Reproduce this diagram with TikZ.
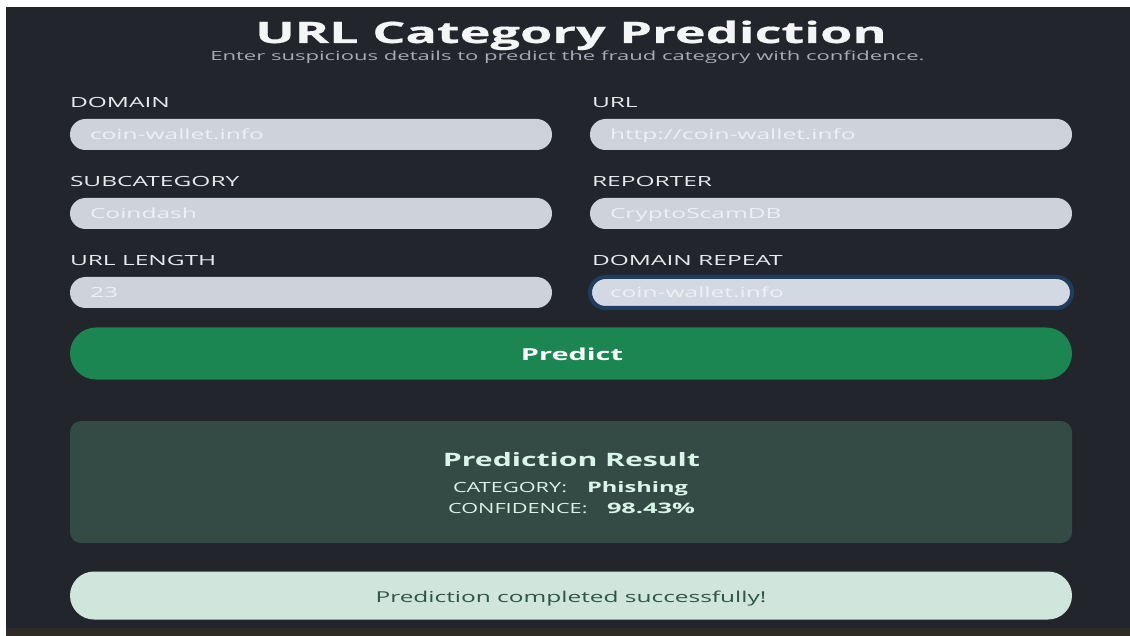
\documentclass[tikz,border=0pt]{standalone}
\usepackage{fontspec}
\setmainfont{Open Sans}[FakeStretch=1.75]
\newfontfamily\capsfont{Open Sans}[FakeStretch=1.55]
\newfontfamily\msgfont{Open Sans}[FakeStretch=1.63]
\newfontfamily\headfont{Open Sans}[FakeStretch=1.77, FakeBold=0.6]
\definecolor{panelc}{HTML}{22252C}
\definecolor{stripc}{HTML}{2E2B29}
\definecolor{fieldc}{HTML}{CED3DA}
\definecolor{focusc}{HTML}{D3D9E3}
\definecolor{ringc}{HTML}{203C5E}
\definecolor{fieldtxt}{HTML}{EEF0F3}
\definecolor{labelc}{HTML}{E8E9EB}
\definecolor{titlec}{HTML}{F4F5F6}
\definecolor{subc}{HTML}{A7ABB1}
\definecolor{greenc}{HTML}{1B8652}
\definecolor{resboxc}{HTML}{344A45}
\definecolor{restxt}{HTML}{D9F4E8}
\definecolor{succbg}{HTML}{D0E6DC}
\definecolor{succtxt}{HTML}{2E5545}
\begin{document}
\begin{tikzpicture}[x=1pt,y=-1pt,
  every node/.style={inner sep=0pt, outer sep=0pt},
  lbl/.style={anchor=base west, text=labelc, font=\fontsize{14}{16}\selectfont},
  val/.style={anchor=base west, text=fieldtxt, font=\fontsize{14}{16}\selectfont},
  field/.style={fill=fieldc, minimum width=482pt, minimum height=31pt, rounded corners=15.5pt},
  focused/.style={fill=focusc, draw=ringc, line width=4pt},
  restext/.style={anchor=base west, text=restxt, font=\capsfont\fontsize{14}{16}\selectfont},
  resbold/.style={anchor=base west, text=restxt, font=\fontsize{14.5}{16}\selectfont\bfseries}]
\useasboundingbox (0,0) rectangle (1130,636);
\fill[white] (0,0) rectangle (1130,636);
\fill[panelc] (6,7) rectangle (1130,628);
\fill[stripc] (6,628) rectangle (1130,636);

% heading
\node[anchor=base, text=titlec, font=\headfont\fontsize{29.5}{32}\selectfont\bfseries] (title) at (571,43) {URL Category Prediction};
\node[anchor=base, text=subc, font=\fontsize{12.6}{15}\selectfont] (subtitle) at (567.5,61) {Enter suspicious details to predict the fraud category with confidence.};

% form row 1
\node[lbl] (ldomain) at (70,108) {DOMAIN};
\node[lbl] (lurl) at (592,108) {URL};
\node[field] (fdomain) at (311,134.5) {};
\node[field] (furl) at (831,134.5) {};
\node[val] (vdomain) at (90,140) {coin-wallet.info};
\node[val] (vurl) at (610,140) {http://coin-wallet.info};

% form row 2
\node[lbl] (lsub) at (70,187) {SUBCATEGORY};
\node[lbl] (lrep) at (592,187) {REPORTER};
\node[field] (fsub) at (311,213.5) {};
\node[field] (frep) at (831,213.5) {};
\node[val] (vsub) at (90,219) {Coindash};
\node[val] (vrep) at (610,219) {CryptoScamDB};

% form row 3
\node[lbl] (llen) at (70,266) {URL LENGTH};
\node[lbl] (ldrep) at (592,266) {DOMAIN REPEAT};
\node[field] (flen) at (311,292.5) {};
\node[field, focused] (fdrep) at (831,292.5) {};
\node[val] (vlen) at (90,298) {23};
\node[val] (vdrep) at (610,298) {coin-wallet.info};

% submit button
\node[fill=greenc, minimum width=1002pt, minimum height=52pt, rounded corners=26pt] (predict) at (571,353.5) {};
\node[anchor=base, text=white, font=\fontsize{16.5}{18}\selectfont\bfseries] (predicttxt) at (572,360) {Predict};

% result card
\node[fill=resboxc, minimum width=1002pt, minimum height=122pt, rounded corners=11pt] (result) at (571,482) {};
\node[anchor=base, text=restxt, font=\msgfont\fontsize{18.5}{20}\selectfont\bfseries] (rtitle) at (571.5,466) {Prediction Result};
\node[restext] (rcat) at (453,492) {CATEGORY:};
\node[resbold, font=\msgfont\fontsize{14.5}{16}\selectfont\bfseries] (rcatv) at (587,492) {Phishing};
\node[restext] (rconf) at (448,513) {CONFIDENCE:};
\node[resbold] (rconfv) at (607,513) {98.43\%};

% status message
\node[fill=succbg, minimum width=1002pt, minimum height=48pt, rounded corners=24pt] (status) at (571,595.5) {};
\node[anchor=base, text=succtxt, font=\msgfont\fontsize{15}{17}\selectfont] (statustxt) at (571,602) {Prediction completed successfully!};
\end{tikzpicture}
\end{document}
